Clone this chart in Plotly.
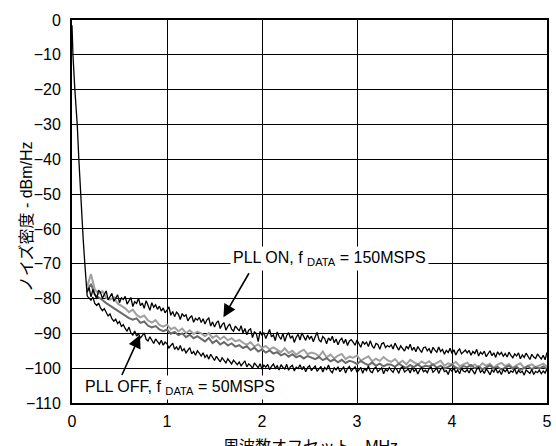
import plotly.graph_objects as go

# Frequency grids (MHz offset)
freq_fine = [round(0.16 + 0.02 * i, 2) for i in range(243)]    # black traces
freq_coarse = [round(0.16 + 0.04 * i, 2) for i in range(122)]  # gray traces

# Carrier roll-off near 0 MHz
carrier_x = [0.0, 0.01, 0.03, 0.055, 0.072, 0.09, 0.105, 0.118, 0.135, 0.15, 0.16]
carrier_y = [-1.5, -10, -20, -30, -40, -50, -57, -63, -70, -77, -79.3]

# PLL ON, fDATA = 150MSPS (upper black)
pll_on_150 = [
    -78.2, -76.9, -79.5, -77.4, -78.8, -80.1, -77.6, -78.3, -79.9, -78.7,
    -77.8, -80.4, -79.2, -78.5, -80.8, -79.6, -78.9, -81.2, -79.8, -80.3,
    -79.4, -81.6, -80.5, -79.7, -82.3, -80.9, -81.4, -79.9, -82.0, -81.3,
    -82.8, -80.6, -81.9, -83.4, -81.2, -82.5, -81.8, -83.1, -82.2, -83.6,
    -82.7, -84.1, -83.3, -82.4, -84.8, -83.7, -85.2, -83.9, -84.5, -86.0,
    -84.3, -85.1, -84.7, -86.4, -85.5, -84.9, -86.8, -85.7, -86.2, -85.4,
    -86.9, -85.8, -87.3, -86.1, -85.6, -87.9, -86.7, -88.2, -87.0, -86.4,
    -88.6, -87.5, -86.9, -89.1, -88.0, -87.3, -88.8, -89.4, -87.9, -88.5,
    -89.3, -87.8, -89.9, -88.6, -90.4, -89.1, -88.7, -91.2, -89.6, -90.1,
    -92.4, -89.4, -90.6, -89.8, -91.5, -90.2, -88.9, -91.0, -90.4, -92.1,
    -89.6, -90.9, -91.7, -90.0, -92.3, -90.6, -89.8, -91.4, -90.7, -92.6,
    -91.1, -90.3, -91.9, -89.9, -91.2, -92.0, -90.5, -91.6, -90.8, -92.4,
    -91.0, -89.7, -91.8, -92.5, -90.9, -91.5, -93.0, -91.3, -92.1, -90.8,
    -92.7, -91.6, -93.3, -92.0, -91.4, -92.9, -91.7, -93.5, -92.2, -91.8,
    -92.6, -93.4, -91.9, -92.8, -94.0, -92.3, -93.1, -92.5, -93.8, -92.1,
    -93.6, -94.3, -92.9, -93.2, -94.6, -93.0, -92.7, -94.1, -93.5, -93.9,
    -93.3, -94.5, -92.8, -93.9, -94.8, -93.6, -94.2, -95.1, -93.7, -94.4,
    -93.1, -94.9, -94.0, -95.3, -93.8, -94.6, -95.5, -94.1, -93.9, -95.0,
    -94.4, -95.7, -94.0, -94.8, -95.4, -93.9, -95.2, -94.6, -96.0, -94.9,
    -95.5, -94.3, -95.8, -94.7, -96.2, -95.1, -94.5, -95.9, -95.3, -94.8,
    -95.6, -94.9, -96.3, -95.2, -95.8, -94.6, -96.5, -95.4, -96.0, -95.1,
    -96.7, -95.7, -95.0, -96.4, -95.6, -96.9, -95.3, -96.1, -95.5, -96.6,
    -95.8, -96.8, -95.4, -96.3, -97.0, -95.9, -96.5, -95.6, -97.3, -96.2,
    -96.9, -95.7, -96.6, -97.5, -96.0, -96.8, -97.2, -95.9, -96.7, -97.4,
    -96.3, -97.6, -95.5,
]

# PLL OFF, fDATA = 50MSPS (lower black)
pll_off_50 = [
    -79.3, -79.8, -80.5, -79.6, -81.4, -82.0, -81.3, -82.7, -83.5, -82.9,
    -84.2, -85.0, -84.4, -85.8, -86.5, -85.9, -87.2, -86.6, -88.0, -87.5,
    -88.6, -89.4, -88.2, -89.9, -90.5, -89.3, -90.8, -90.1, -91.4, -90.6,
    -89.9, -91.7, -92.2, -91.0, -91.8, -92.9, -91.6, -92.4, -93.1, -92.0,
    -93.4, -92.5, -93.0, -94.2, -93.3, -92.8, -94.6, -93.9, -94.8, -93.5,
    -95.1, -94.4, -95.6, -94.7, -94.1, -95.9, -95.2, -96.3, -95.0, -95.7,
    -96.5, -95.6, -96.9, -96.2, -97.4, -96.0, -97.1, -97.8, -96.6, -97.5,
    -98.2, -97.0, -97.9, -98.5, -97.3, -98.1, -98.8, -97.7, -98.4, -99.0,
    -98.2, -99.3, -98.6, -97.9, -99.6, -98.8, -99.2, -100.1, -98.5, -99.4,
    -99.9, -98.7, -100.3, -99.1, -99.7, -98.9, -100.4, -99.5, -98.8, -100.0,
    -99.3, -100.5, -99.0, -99.8, -100.2, -98.9, -100.6, -99.6, -99.2, -100.8,
    -99.7, -100.1, -99.0, -100.4, -99.5, -101.0, -99.8, -99.3, -100.7, -100.0,
    -99.4, -100.9, -100.2, -99.5, -101.1, -99.8, -100.4, -99.1, -100.7, -101.3,
    -99.9, -100.5, -99.6, -101.0, -100.3, -99.7, -101.4, -100.1, -99.5, -100.8,
    -100.2, -99.6, -101.2, -100.5, -99.8, -101.5, -100.0, -100.7, -99.4, -100.9,
    -101.3, -100.1, -99.7, -101.0, -100.4, -99.9, -101.6, -100.3, -100.8, -99.8,
    -100.6, -101.2, -99.9, -100.4, -101.5, -100.0, -99.6, -101.1, -100.7, -100.2,
    -101.4, -99.8, -100.9, -100.3, -101.7, -100.5, -99.9, -101.0, -100.6, -101.3,
    -100.1, -99.7, -101.2, -100.6, -100.0, -101.5, -100.3, -99.8, -101.0, -100.7,
    -101.8, -100.2, -100.9, -99.9, -101.3, -100.5, -101.6, -100.0, -100.8, -101.1,
    -100.4, -101.4, -100.1, -100.8, -101.7, -100.3, -99.9, -101.2, -100.6, -101.5,
    -100.2, -100.9, -101.9, -100.5, -101.1, -100.0, -101.4, -100.7, -101.8, -100.4,
    -101.0, -100.3, -101.6, -100.8, -101.2, -100.1, -101.7, -100.6, -101.3, -100.9,
    -102.0, -100.5, -101.1, -101.5, -100.4, -101.8, -100.9, -101.3, -100.6, -101.6,
    -100.8, -101.4, -100.2,
]

gray_light = [
    -76.5, -73.0, -77.4, -78.6, -77.9, -79.8, -80.3, -79.6, -81.4, -82.0,
    -82.8, -83.9, -83.2, -84.7, -85.4, -84.9, -86.3, -86.9, -86.2, -87.6,
    -88.1, -87.5, -88.8, -88.3, -89.4, -88.6, -89.9, -89.1, -90.2, -89.5,
    -90.0, -90.8, -89.9, -91.3, -90.6, -91.7, -90.9, -92.0, -91.4, -92.3,
    -91.9, -92.7, -93.3, -92.5, -93.8, -93.1, -94.2, -93.6, -94.6, -94.0,
    -94.8, -95.4, -94.3, -95.6, -95.0, -96.1, -95.3, -94.7, -96.0, -95.5,
    -95.8, -96.6, -95.2, -96.9, -96.1, -97.2, -96.4, -95.9, -97.4, -96.7,
    -97.0, -96.3, -97.8, -97.1, -96.6, -98.0, -97.3, -97.9, -96.8, -97.7,
    -98.2, -97.4, -98.6, -97.9, -98.9, -97.6, -98.4, -99.0, -98.1, -98.7,
    -98.0, -99.1, -98.5, -97.9, -99.3, -98.6, -99.0, -98.2, -99.4, -98.8,
    -98.4, -99.5, -98.9, -99.8, -98.6, -99.3, -98.7, -99.9, -99.0, -98.5,
    -99.4, -98.8, -99.9, -99.1, -98.6, -100.0, -99.3, -98.9, -99.7, -99.2,
    -98.7, -99.5,
]

gray_dark = [
    -77.5, -75.8, -78.9, -79.6, -80.4, -81.3, -82.0, -82.9, -83.5, -84.3,
    -84.8, -85.6, -86.1, -85.7, -87.0, -86.6, -87.8, -88.3, -87.9, -88.9,
    -89.4, -88.9, -90.1, -89.6, -90.5, -90.0, -91.1, -90.4, -91.4, -90.8,
    -91.6, -92.3, -91.3, -92.8, -92.0, -93.2, -92.5, -93.5, -92.9, -93.8,
    -93.4, -94.2, -93.7, -94.8, -94.1, -95.2, -94.6, -95.5, -94.9, -95.8,
    -95.4, -96.3, -95.8, -96.7, -96.0, -96.9, -96.4, -97.2, -96.5, -97.0,
    -97.4, -96.8, -97.7, -97.1, -98.0, -97.5, -98.3, -97.6, -98.5, -97.9,
    -98.2, -98.8, -97.9, -98.6, -99.1, -98.4, -99.3, -98.7, -99.5, -98.9,
    -99.0, -99.6, -98.7, -99.4, -99.9, -99.1, -99.7, -98.9, -99.8, -99.3,
    -99.5, -98.9, -99.9, -99.3, -100.1, -99.6, -99.0, -99.8, -100.2, -99.4,
    -99.7, -99.1, -100.0, -99.5, -100.3, -99.8, -99.2, -100.1, -99.6, -100.4,
    -99.8, -99.3, -100.2, -99.6, -100.5, -99.9, -99.4, -100.3, -99.7, -100.1,
    -99.5, -100.2,
]

x_ticks = [0, 1, 2, 3, 4, 5]
x_ticklabels = ["0", "1", "2", "3", "4", "5"]
y_ticks = [0, -10, -20, -30, -40, -50, -60, -70, -80, -90, -100, -110]
y_ticklabels = ["0", "\u221210", "\u221220", "\u221230", "\u221240", "\u221250",
                "\u221260", "\u221270", "\u221280", "\u221290", "\u2212100", "\u2212110"]

FONT = "Liberation Sans, Arial, Noto Sans CJK JP, sans-serif"

fig = go.Figure()
fig.add_trace(go.Scatter(x=freq_coarse, y=gray_light, mode="lines",
                         line=dict(color="#a0a0a0", width=2)))
fig.add_trace(go.Scatter(x=freq_coarse, y=gray_dark, mode="lines",
                         line=dict(color="#6a6a6a", width=2)))
fig.add_trace(go.Scatter(x=freq_fine, y=pll_on_150, mode="lines",
                         line=dict(color="black", width=1.3)))
fig.add_trace(go.Scatter(x=freq_fine, y=pll_off_50, mode="lines",
                         line=dict(color="black", width=1.3)))
fig.add_trace(go.Scatter(x=carrier_x, y=carrier_y, mode="lines",
                         line=dict(color="black", width=1.3)))

annotations = [
    # text labels
    dict(x=2.71, y=-68.4, xref="x", yref="y", showarrow=False,
         text="PLL ON, f <sub>DATA</sub> = 150MSPS", bgcolor="white",
         font=dict(family=FONT, size=16, color="black"), borderpad=2),
    dict(x=1.135, y=-105.6, xref="x", yref="y", showarrow=False,
         text="PLL OFF, f <sub>DATA</sub> = 50MSPS", bgcolor="white",
         font=dict(family=FONT, size=16, color="black"), borderpad=2),
    # arrows
    dict(x=1.594, y=-85.4, ax=1.872, ay=-72.3, xref="x", yref="y",
         axref="x", ayref="y", text="", showarrow=True, arrowhead=2,
         arrowsize=1.6, arrowwidth=1.6, arrowcolor="black"),
    dict(x=0.716, y=-90.5, ax=0.518, ay=-102.4, xref="x", yref="y",
         axref="x", ayref="y", text="", showarrow=True, arrowhead=2,
         arrowsize=1.6, arrowwidth=1.6, arrowcolor="black"),
    # axis titles
    dict(x=0.502, y=-0.086, xref="paper", yref="paper", xanchor="center",
         yanchor="top", showarrow=False, text="周波数オフセット - MHz",
         font=dict(family=FONT, size=16, color="black")),
    dict(x=-0.097, y=0.488, xref="paper", yref="paper", xanchor="center",
         yanchor="middle", showarrow=False, text="ノイズ密度 - dBm/Hz",
         textangle=-90, font=dict(family=FONT, size=16, color="black")),
]

fig.update_layout(
    width=556, height=446,
    margin=dict(l=72, r=4, t=20, b=43),
    paper_bgcolor="white", plot_bgcolor="white",
    showlegend=False,
    font=dict(family=FONT, size=16, color="black"),
    annotations=annotations,
)
fig.update_xaxes(range=[0, 5], tickvals=x_ticks, ticktext=x_ticklabels,
                 showgrid=True, gridcolor="black", gridwidth=1.3,
                 showline=True, linecolor="black", linewidth=2, mirror=True,
                 ticks="outside", ticklen=3, tickcolor="rgba(0,0,0,0)",
                 zeroline=False, fixedrange=True)
fig.update_yaxes(range=[-110, 0], tickvals=y_ticks, ticktext=y_ticklabels,
                 showgrid=True, gridcolor="black", gridwidth=1.3,
                 showline=True, linecolor="black", linewidth=2, mirror=True,
                 ticks="outside", ticklen=6, tickcolor="rgba(0,0,0,0)",
                 zeroline=False, fixedrange=True)

fig.write_html("out.html", config={"displayModeBar": False},
               post_script="document.body.style.margin='0';document.body.style.padding='0';")
